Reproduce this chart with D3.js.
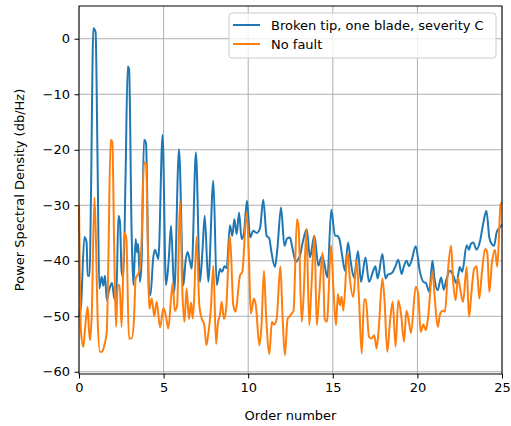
<!DOCTYPE html>
<head>
<meta charset="utf-8">
</head>
<style>
body { margin: 0; background: #fff; }
text { font-family: "DejaVu Sans", sans-serif; font-size: 13px; fill: #000; }
.grid line { stroke: #b0b0b0; stroke-width: 1; }
.axis path { display: none; }
.axis line { stroke: #000; stroke-width: 1; }
.frame { fill: none; stroke: #000; stroke-width: 1; }
</style>
<body>
<svg id="psd" width="511" height="426"></svg>

<script src="https://d3js.org/d3.v7.min.js"></script>
<script>

// blue series: broken tip, one blade, severity C
var orderBlue = [0, 0.12, 0.32, 0.45, 0.51, 0.63, 0.7, 0.85, 0.98, 1.1, 1.2, 1.34, 1.44, 1.54, 1.64, 1.8, 1.95, 2.09,
  2.2, 2.33, 2.42, 2.52, 2.62, 2.75, 2.88, 2.96, 3.11, 3.21, 3.35, 3.43, 3.5, 3.6, 3.7, 3.84, 3.96, 4.14,
  4.22, 4.39, 4.49, 4.59, 4.69, 4.94, 5.14, 5.3, 5.44, 5.63, 5.91, 6.17, 6.3, 6.42, 6.55, 6.66, 6.91, 7.15,
  7.3, 7.43, 7.64, 7.94, 8.14, 8.33, 8.45, 8.6, 8.73, 8.92, 9.06, 9.18, 9.32, 9.46, 9.61, 9.75, 9.93, 10.11,
  10.3, 10.5, 10.7, 10.89, 11.09, 11.25, 11.35, 11.58, 11.72, 11.94, 12.14, 12.3, 12.47, 12.6, 12.82, 12.96,
  13.06, 13.2, 13.46, 13.65, 13.91, 14.15, 14.3, 14.38, 14.5, 14.68, 14.91, 15.13, 15.25, 15.39, 15.55, 15.72,
  15.9, 16.06, 16.25, 16.49, 16.67, 16.93, 17.14, 17.39, 17.52, 17.65, 17.93, 18.12, 18.25, 18.38, 18.55, 18.7,
  18.87, 19.07, 19.2, 19.37, 19.5, 19.65, 19.9, 20.15, 20.35, 20.5, 20.7, 20.89, 21.0, 21.2, 21.4, 21.56, 21.7,
  21.93, 22.12, 22.32, 22.5, 22.65, 22.91, 23.05, 23.15, 23.3, 23.5, 23.7, 23.9, 24.08, 24.25, 24.4, 24.53,
  24.69, 24.88, 25];
var psdBlue = [-50, -48, -35.7, -36.7, -42.7, -42.7, -30, 1.9, 1.2, -22.9, -45, -42.9, -44.5, -42.7, -47.1, -45, -44, -46.8,
  -47, -31.9, -33, -42, -43, -25, -5, -5.5, -34.9, -44.4, -36.1, -38.5, -37, -43.8, -40, -18.2, -18.8, -45.6,
  -46.2, -39.4, -38, -38.8, -39.7, -17.3, -44.4, -40, -33.7, -45.6, -19.9, -44.4, -40, -38.4, -40, -41.4, -20.5, -43.8,
  -38, -31.9, -43.8, -25.6, -44.4, -41.5, -42, -41, -41.3, -33.6, -35.5, -32.5, -35.2, -31.3, -36.1, -35, -29.2, -35.8,
  -34.6, -35, -34.1, -29, -35.5, -36, -38, -41.1, -38, -30.4, -37.3, -36, -35.8, -37.5, -40.2, -39.7,
  -39.1, -37, -34.3, -39.4, -35.5, -40.9, -39.5, -39.1, -40.5, -43, -30.8, -35.5, -35.5, -36.1, -39, -41.8,
  -36.7, -40.2, -43, -38.3, -43.8, -39.4, -43.8, -41.8, -41, -43.2, -38.8, -43.2, -42.5, -42.4, -42, -41,
  -39.8, -42.4, -41, -40, -41, -40, -37.4, -42, -43.8, -44, -45.6, -40, -43, -45.3, -43, -45.2, -43.5,
  -41.8, -42.7, -44.1, -41.1, -42, -37.2, -38, -37, -36.7, -38, -36.5, -33.1, -31, -35.8, -37, -37.3,
  -34.8, -34, -33.5];

// orange series: no fault
var orderOrange = [0, 0.06, 0.12, 0.26, 0.35, 0.51, 0.58, 0.65, 0.75, 0.91, 1.0, 1.1, 1.24, 1.36, 1.5, 1.64, 1.73, 1.87,
  1.97, 2.09, 2.19, 2.29, 2.4, 2.52, 2.68, 2.8, 2.95, 3.11, 3.25, 3.35, 3.47, 3.6, 3.7, 3.84, 3.96, 4.16,
  4.3, 4.45, 4.59, 4.79, 4.99, 5.14, 5.28, 5.44, 5.54, 5.66, 5.8, 5.97, 6.11, 6.23, 6.36, 6.5, 6.62, 6.72,
  6.8, 6.95, 7.11, 7.25, 7.4, 7.53, 7.65, 7.78, 7.94, 8.1, 8.22, 8.33, 8.43, 8.57, 8.7, 8.92, 9.12, 9.25,
  9.32, 9.51, 9.65, 9.91, 10.05, 10.15, 10.34, 10.45, 10.66, 10.78, 10.93, 11.06, 11.25, 11.4, 11.53, 11.68,
  11.9, 12.03, 12.17, 12.33, 12.45, 12.57, 12.68, 12.88, 12.98, 13.16, 13.28, 13.44, 13.61, 13.73, 13.92,
  14.05, 14.2, 14.4, 14.52, 14.65, 14.9, 15.02, 15.19, 15.3, 15.42, 15.52, 15.62, 15.88, 16.0, 16.21, 16.41,
  16.55, 16.71, 16.85, 16.95, 17.14, 17.3, 17.45, 17.59, 17.72, 17.93, 18.05, 18.22, 18.38, 18.54, 18.71,
  18.87, 19.05, 19.21, 19.35, 19.5, 19.62, 19.9, 20.05, 20.19, 20.35, 20.5, 20.62, 20.9, 21.03, 21.2, 21.35,
  21.5, 21.63, 21.8, 21.99, 22.12, 22.26, 22.4, 22.55, 22.7, 22.91, 23.05, 23.2, 23.35, 23.5, 23.66, 23.8,
  24.0, 24.13, 24.25, 24.4, 24.58, 24.72, 24.92, 25];
var psdOrange = [-29.8, -45, -52.8, -55.5, -52.5, -48.3, -52, -54.3, -50, -28.6, -36, -50.4, -56.4, -56.4, -55.2, -52.8, -40.9, -18.2,
  -18.7, -39.7, -51.9, -44.4, -44.4, -51.9, -34.9, -36, -54, -54, -50.5, -43.2, -42.5, -41.5, -36.1, -22.3, -22.5, -48.6,
  -46.8, -50, -47.4, -52, -48.5, -50, -52.2, -46.8, -44, -49, -48, -29.2, -45.6, -51, -45, -50.5, -47.5, -50.4,
  -47, -35.7, -48, -50.4, -51.5, -55.2, -53, -49.2, -40.9, -55, -51, -49.8, -47.4, -50.5, -48.5, -35.5, -48, -49.2,
  -48, -42.7, -42, -31.3, -40, -49.5, -46.8, -48, -55.2, -52, -41.8, -50, -56.8, -51, -51.5, -50.5,
  -41, -50, -57, -50.4, -50, -49.5, -49, -32.5, -34, -51, -46, -34.3, -51.6, -45, -35.5,
  -51.6, -46, -38.5, -50.5, -51, -37.3, -44, -51.6, -46, -48, -46.5, -49, -38.5, -43, -46.5, -40,
  -47, -56.7, -47, -47, -53.7, -54, -53.4, -55.8, -52, -43.2, -46.8, -56.4, -51, -47.4, -55.5,
  -47.1, -50, -54.6, -49, -51, -53, -44.7, -46, -52.8, -51.5, -52.5, -50.5, -42, -46.8, -51.9, -49.5,
  -49, -49.2, -42, -37.3, -44, -47.1, -43, -45.5, -47.4, -41.1, -50.1, -45.5, -41.5, -41, -46.8, -42.5,
  -37.9, -38.5, -45.6, -40.5, -38, -41.1, -29.8, -29.5];

var xTicks = [0, 5, 10, 15, 20, 25];
var yTicks = [0, -10, -20, -30, -40, -50, -60];
var seriesNames = ["Broken tip, one blade, severity C", "No fault"];
var seriesColors = ["#1f77b4", "#ff7f0e"];

var svg = d3.select("#psd"),
    margin = {top: 6, right: 9, bottom: 52, left: 79},
    width = +svg.attr("width") - margin.left - margin.right,
    height = +svg.attr("height") - margin.top - margin.bottom;

var x = d3.scaleLinear().domain([0, 25]).range([0, width]),
    y = d3.scaleLinear().domain([-60.4, 5.9]).range([height, 0]);

var g = svg.append("g")
    .attr("transform", "translate(" + margin.left + "," + margin.top + ")");

// grid
g.append("g").attr("class", "grid")
  .selectAll("line").data(xTicks).enter().append("line")
    .attr("x1", function(d) { return x(d); }).attr("x2", function(d) { return x(d); })
    .attr("y1", 0).attr("y2", height);
g.append("g").attr("class", "grid")
  .selectAll("line").data(yTicks).enter().append("line")
    .attr("y1", function(d) { return y(d); }).attr("y2", function(d) { return y(d); })
    .attr("x1", 0).attr("x2", width);

// axes
g.append("g")
    .attr("class", "axis")
    .attr("transform", "translate(0," + height + ")")
    .call(d3.axisBottom(x).tickValues(xTicks).tickSize(4.5).tickPadding(4.5));

g.append("g")
    .attr("class", "axis")
    .call(d3.axisLeft(y).tickValues(yTicks).tickSize(4.5).tickPadding(4.5));

g.selectAll(".axis text").style("font-size", "13px").style("font-family", "DejaVu Sans");

// lines
var line = d3.line().curve(d3.curveMonotoneX)
    .x(function(d) { return x(d[0]); })
    .y(function(d) { return y(d[1]); });

var plot = g.append("g");
[[orderBlue, psdBlue], [orderOrange, psdOrange]].forEach(function(s, i) {
  plot.append("path")
    .datum(d3.zip(s[0], s[1]))
    .attr("fill", "none")
    .attr("stroke", seriesColors[i])
    .attr("stroke-width", 2)
    .attr("stroke-linejoin", "round")
    .attr("d", line);
});

g.append("rect").attr("class", "frame")
    .attr("width", width).attr("height", height);

// legend
var lg = g.append("g").attr("transform", "translate(150,7)");
lg.append("rect")
    .attr("width", 267).attr("height", 45)
    .attr("rx", 3)
    .attr("fill", "#fff").attr("fill-opacity", 0.8)
    .attr("stroke", "#cccccc").attr("stroke-width", 1);
seriesNames.forEach(function(name, i) {
  var yy = 12 + i * 19;
  lg.append("line")
    .attr("x1", 4).attr("x2", 31).attr("y1", yy).attr("y2", yy)
    .attr("stroke", seriesColors[i]).attr("stroke-width", 2);
  lg.append("text")
    .attr("x", 42).attr("y", yy).attr("dy", "0.35em")
    .text(name);
});

// labels
svg.append("text")
    .attr("text-anchor", "middle")
    .attr("x", margin.left + width / 2).attr("y", 420)
    .text("Order number");

svg.append("text")
    .attr("text-anchor", "middle")
    .attr("transform", "translate(24," + (margin.top + height / 2) + ") rotate(-90)")
    .text("Power Spectral Density (db/Hz)");

</script>
</body>
